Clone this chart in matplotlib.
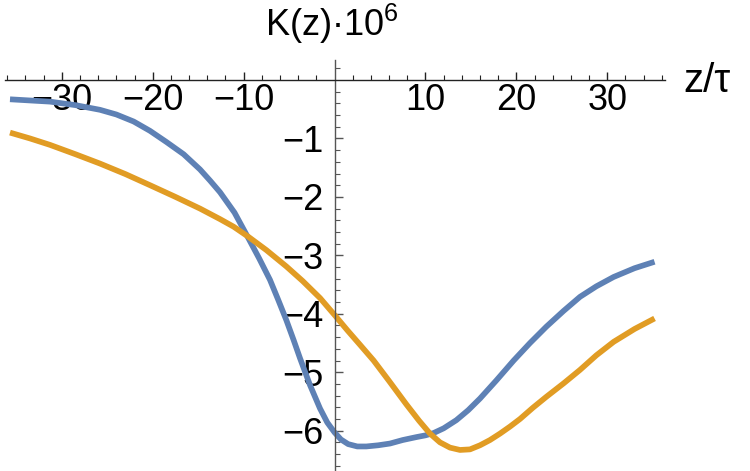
import numpy as np
import matplotlib
matplotlib.use("Agg")
import matplotlib.pyplot as plt
from matplotlib.ticker import FixedLocator

plt.rcParams['font.family'] = ['Liberation Sans', 'DejaVu Sans']
plt.rcParams['mathtext.default'] = 'regular'

# ---- data ----
blue_x = [-35.7, -33.5, -31.3, -28.5, -25.8, -24.0, -22.1, -20.3, -18.5, -16.6, -14.8,
          -13.7, -12.6, -11.0, -9.5, -8.3, -7.1, -6.2, -5.3, -4.5, -3.8, -2.7, -1.6,
          -0.8, 0.0, 0.7, 1.5, 2.5, 3.5, 4.8, 6.1, 7.5, 9.0, 10.0, 10.9, 12.0, 13.4,
          14.7, 16.0, 17.8, 19.7, 21.5, 23.3, 25.2, 27.0, 28.8, 30.7, 33.0, 35.2]
blue_y = [-0.33, -0.35, -0.37, -0.43, -0.51, -0.59, -0.71, -0.87, -1.06, -1.27, -1.53,
          -1.72, -1.92, -2.27, -2.70, -3.05, -3.42, -3.76, -4.11, -4.45, -4.76, -5.22,
          -5.62, -5.86, -6.03, -6.15, -6.23, -6.27, -6.27, -6.25, -6.22, -6.16, -6.11,
          -6.08, -6.04, -5.96, -5.82, -5.65, -5.45, -5.14, -4.80, -4.50, -4.22, -3.95,
          -3.71, -3.53, -3.37, -3.22, -3.11]
orange_x = [-35.7, -33.5, -31.3, -28.5, -25.8, -23.0, -20.3, -17.5, -14.8, -12.6, -11.1,
            -9.5, -7.5, -5.3, -3.5, -1.6, 0.0, 1.4, 2.8, 4.3, 6.0, 7.9, 9.3, 10.5, 11.6,
            12.7, 13.8, 14.9, 16.0, 17.1, 18.2, 19.3, 20.4, 21.8, 23.3, 25.2, 27.0, 28.8,
            30.7, 33.0, 35.2]
orange_y = [-0.90, -1.00, -1.11, -1.27, -1.43, -1.61, -1.80, -2.00, -2.20, -2.38, -2.51,
            -2.68, -2.91, -3.19, -3.44, -3.73, -4.02, -4.28, -4.53, -4.80, -5.15, -5.55,
            -5.83, -6.05, -6.20, -6.29, -6.33, -6.32, -6.25, -6.16, -6.05, -5.93, -5.80,
            -5.61, -5.42, -5.19, -4.96, -4.71, -4.48, -4.26, -4.08]
x_major = [-30, -20, -10, 10, 20, 30]
x_labels = ["\u221230", "\u221220", "\u221210", "10", "20", "30"]
y_major = [-1, -2, -3, -4, -5, -6]
y_labels = ["\u22121", "\u22122", "\u22123", "\u22124", "\u22125", "\u22126"]
y_label_text = "K(z)\u00b710$^{6}$"
x_label_text = "z/\u03c4"

# ---- figure ----
fig = plt.figure(figsize=(7.5, 4.71), dpi=100)
ax = fig.add_axes([0, 0, 1, 1])
ax.set_xlim(-36.8, 45.7)
ax.set_ylim(-6.69, 1.369)

ax.plot(blue_x, blue_y, color='#5E81B5', lw=4.1, solid_capstyle='butt', solid_joinstyle='round')
ax.plot(orange_x, orange_y, color='#E19C24', lw=4.1, solid_capstyle='butt', solid_joinstyle='round')

for s in ['top', 'right']:
    ax.spines[s].set_visible(False)
ax.spines['left'].set_position(('data', 0))
ax.spines['bottom'].set_position(('data', 0))
ax.spines['bottom'].set_bounds(-36.3, 36.4)
ax.spines['left'].set_bounds(-6.69, 0.35)
ax.spines['bottom'].set_color('#222222')
ax.spines['left'].set_color('#555555')
ax.spines['bottom'].set_linewidth(1.0)
ax.spines['left'].set_linewidth(1.0)

ax.xaxis.set_major_locator(FixedLocator(x_major))
ax.set_xticklabels(x_labels)
x_minor = [v for v in range(-36, 37, 2) if v % 10 != 0]
ax.xaxis.set_minor_locator(FixedLocator(x_minor))
ax.yaxis.set_major_locator(FixedLocator(y_major))
ax.set_yticklabels(y_labels)
y_minor = [round(v, 1) for v in np.arange(-6.6, 0.3, 0.2) if abs(v - round(v)) > 1e-6]
ax.yaxis.set_minor_locator(FixedLocator(y_minor))

ax.tick_params(axis='x', which='major', direction='in', length=6, width=1,
               color='#222222', labelsize=26, pad=2)
ax.tick_params(axis='x', which='minor', direction='in', length=3.5, width=0.8, color='#222222')
ax.tick_params(axis='y', which='major', direction='in', length=6, width=1,
               color='#555555', labelsize=26, pad=8)
ax.tick_params(axis='y', which='minor', direction='in', length=3.5, width=0.8, color='#555555')

fig.text(332 / 750, 1 - 36 / 471, y_label_text, fontsize=26, ha='center', va='baseline')
fig.text(683 / 750, 1 - 92 / 471, x_label_text, fontsize=29, ha='left', va='baseline')

fig.savefig("out.png", dpi=100)
